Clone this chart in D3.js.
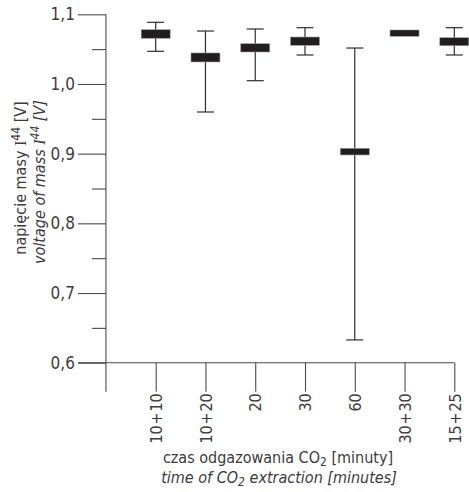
<!DOCTYPE html>
<html>
<head>
<meta charset="utf-8">
<script src="https://cdn.jsdelivr.net/npm/d3@7"></script>
<style>
  html, body { margin: 0; padding: 0; background: #fff; }
  svg { display: block; }
  text { font-family: "Liberation Sans Narrow", "DejaVu Sans Condensed", "Roboto Condensed", sans-serif; fill: #3c3c3c; }
</style>
</head>
<body>
<svg id="chart" width="469" height="492"></svg>
<script>
// ---- data ----
const categories = ["10 + 10", "10 + 20", "20", "30", "60", "30 + 30", "15 + 25"];
const means      = [1.0717, 1.0380, 1.0518, 1.0615, 0.9029, 1.0730, 1.0606];
const boxLow     = [1.0656, 1.0316, 1.0459, 1.0555, 0.8981, 1.0684, 1.0549];
const boxHigh    = [1.0779, 1.0445, 1.0578, 1.0674, 0.9077, 1.0775, 1.0664];
const whiskerLow = [1.0469, 0.9598, 1.0047, 1.0416, 0.6327, null, 1.0416];
const whiskerHigh= [1.0885, 1.0760, 1.0789, 1.0808, 1.0516, null, 1.0808];
const yMajorTicks = [0.6, 0.7, 0.8, 0.9, 1.0, 1.1];
const yMinorTicks = [0.65, 0.75, 0.85, 0.95, 1.05];

const svg = d3.select("#chart");
const axisColor = "#4a4a4a";

const y = d3.scaleLinear().domain([0.6, 1.1]).range([362.7, 14.3]);
const x = d3.scalePoint().domain(categories).range([155.7, 454.3]).padding(0);
const step = x.step();
const yAxisX = x(categories[0]) - step;
const bottom = y(0.6);
const tickDown = 29;

// y axis
const gy = svg.append("g").attr("transform", `translate(${yAxisX},0)`);
gy.call(d3.axisLeft(y).tickValues(yMajorTicks).tickSize(28).tickPadding(3)
  .tickFormat(d => d3.format(".1f")(d).replace(".", ",")));
gy.select(".domain").remove();
gy.selectAll(".tick line").attr("stroke", axisColor).attr("stroke-width", 1.1);
gy.selectAll(".tick text").style("font-size", "17px").attr("fill", "#3c3c3c")
  .style("font-family", null);

const gyMinor = svg.append("g").attr("transform", `translate(${yAxisX},0)`);
gyMinor.call(d3.axisLeft(y).tickValues(yMinorTicks).tickSize(14).tickFormat(""));
gyMinor.select(".domain").remove();
gyMinor.selectAll(".tick line").attr("stroke", axisColor).attr("stroke-width", 1.1);

svg.append("line")
  .attr("x1", yAxisX).attr("x2", yAxisX)
  .attr("y1", y(1.1)).attr("y2", bottom + tickDown)
  .attr("stroke", axisColor).attr("stroke-width", 1.1);

// x axis
const gx = svg.append("g").attr("transform", `translate(0,${bottom})`);
gx.call(d3.axisBottom(x).tickSize(tickDown).tickPadding(3));
gx.select(".domain").remove();
gx.selectAll(".tick line").attr("stroke", axisColor).attr("stroke-width", 1.1);
gx.selectAll(".tick text")
  .style("font-size", "16px")
  .style("font-family", null)
  .style("word-spacing", "-3px")
  .style("letter-spacing", "-0.3px")
  .attr("fill", "#3c3c3c")
  .attr("y", 0).attr("x", -(tickDown + 2)).attr("dy", "0.36em")
  .attr("transform", "rotate(-90)")
  .style("text-anchor", "end");

svg.append("line")
  .attr("x1", yAxisX - 28).attr("x2", x(categories[categories.length - 1]))
  .attr("y1", bottom).attr("y2", bottom)
  .attr("stroke", axisColor).attr("stroke-width", 1.1);

// whiskers
const boxW = 29, capW = 17;
const data = categories.map((c, i) => ({
  c, mean: means[i], lo: boxLow[i], hi: boxHigh[i], wl: whiskerLow[i], wh: whiskerHigh[i]
}));
const wd = data.filter(d => d.wl !== null);
const wg = svg.append("g").attr("stroke", "#2e2e2e").attr("stroke-width", 1.2);
wg.selectAll("line.stem").data(wd).join("line")
  .attr("x1", d => x(d.c)).attr("x2", d => x(d.c))
  .attr("y1", d => y(d.wh)).attr("y2", d => y(d.wl));
wg.selectAll("line.capT").data(wd).join("line")
  .attr("x1", d => x(d.c) - capW / 2).attr("x2", d => x(d.c) + capW / 2)
  .attr("y1", d => y(d.wh)).attr("y2", d => y(d.wh));
wg.selectAll("line.capB").data(wd).join("line")
  .attr("x1", d => x(d.c) - capW / 2).attr("x2", d => x(d.c) + capW / 2)
  .attr("y1", d => y(d.wl)).attr("y2", d => y(d.wl));

// boxes
svg.append("g").selectAll("rect").data(data).join("rect")
  .attr("x", d => x(d.c) - boxW / 2)
  .attr("width", boxW)
  .attr("y", d => y(d.hi))
  .attr("height", d => y(d.lo) - y(d.hi))
  .attr("fill", "#221e1f")
  .attr("stroke", "#9a9a9a").attr("stroke-width", 0.6);

// axis titles
const t1 = svg.append("text").attr("x", 278).attr("y", 463)
  .attr("text-anchor", "middle").style("font-size", "16px");
t1.append("tspan").text("czas odgazowania CO");
t1.append("tspan").attr("dy", 3).style("font-size", "12px").text("2");
t1.append("tspan").attr("dy", -3).text(" [minuty]");

const t2 = svg.append("text").attr("x", 279).attr("y", 483)
  .attr("text-anchor", "middle").style("font-size", "16px").style("font-style", "italic");
t2.append("tspan").text("time of CO");
t2.append("tspan").attr("dy", 3).style("font-size", "12px").text("2");
t2.append("tspan").attr("dy", -3).text(" extraction [minutes]");

const yt1 = svg.append("text").attr("transform", "translate(26,178) rotate(-90)")
  .attr("text-anchor", "middle").style("font-size", "16px");
yt1.append("tspan").text("napięcie masy ");
yt1.append("tspan").style("font-family", "'Liberation Serif', serif").text("I");
yt1.append("tspan").attr("dy", -6).style("font-size", "12px").text("44");
yt1.append("tspan").attr("dy", 6).text(" [V]");

const yt2 = svg.append("text").attr("transform", "translate(45,182) rotate(-90)")
  .attr("text-anchor", "middle").style("font-size", "16px").style("font-style", "italic");
yt2.append("tspan").text("voltage of mass ");
yt2.append("tspan").style("font-family", "'Liberation Serif', serif").text("I");
yt2.append("tspan").attr("dy", -6).style("font-size", "12px").text("44");
yt2.append("tspan").attr("dy", 6).text(" [V]");
</script>
</body>
</html>
